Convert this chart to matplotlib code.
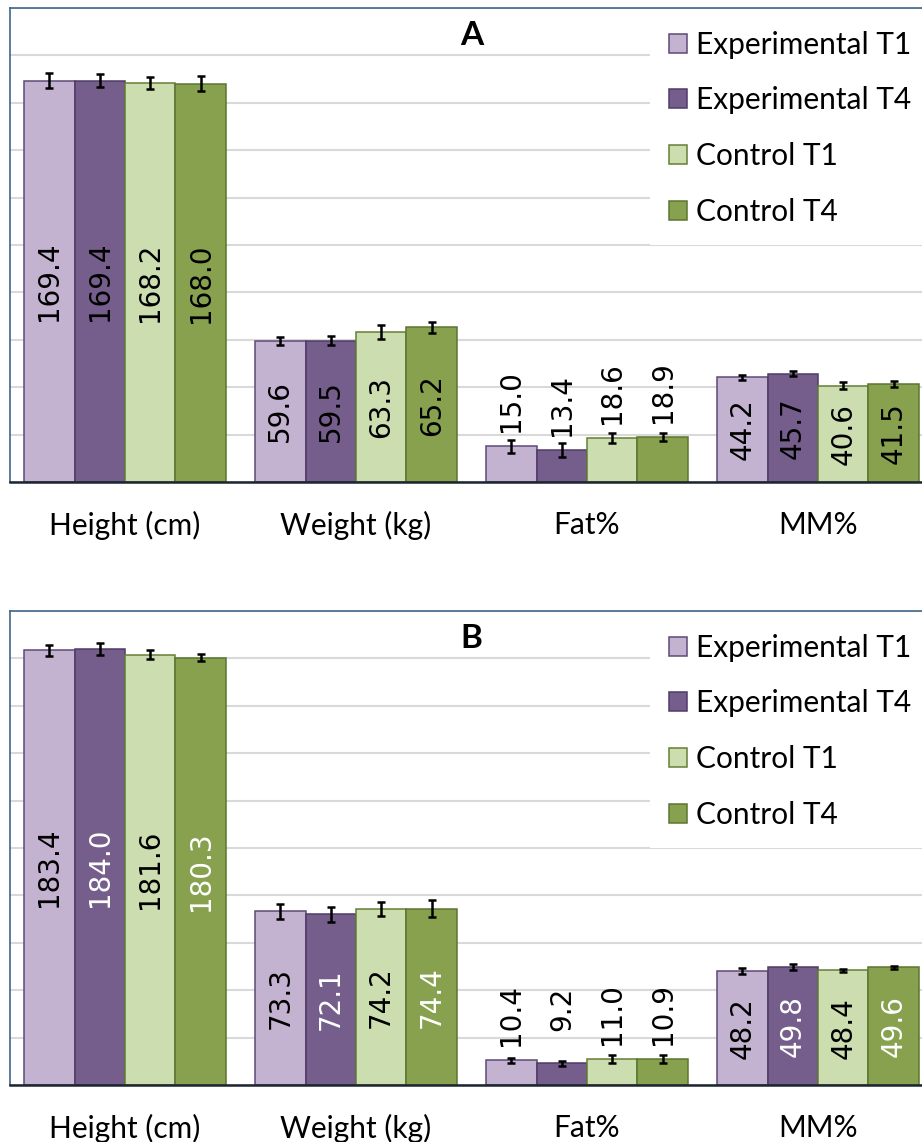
"""Anthropometric bar chart, panels A and B."""

import matplotlib
matplotlib.use("Agg")
import matplotlib.pyplot as plt
import numpy as np
from matplotlib.patches import Patch

categories = ["Height (cm)", "Weight (kg)", "Fat%", "MM%"]
series_names = ["Experimental T1", "Experimental T4", "Control T1", "Control T4"]

# panel A
a_exp_t1 = [169.4, 59.6, 15.0, 44.2]
a_exp_t4 = [169.4, 59.5, 13.4, 45.7]
a_ctl_t1 = [168.2, 63.3, 18.6, 40.6]
a_ctl_t4 = [168.0, 65.2, 18.9, 41.5]
a_err_exp_t1 = [3.0, 1.7, 2.8, 1.0]
a_err_exp_t4 = [2.8, 1.9, 2.9, 1.0]
a_err_ctl_t1 = [2.5, 2.9, 2.1, 1.5]
a_err_ctl_t4 = [3.2, 2.4, 1.7, 1.3]

# panel B
b_exp_t1 = [183.4, 73.3, 10.4, 48.2]
b_exp_t4 = [184.0, 72.1, 9.2, 49.8]
b_ctl_t1 = [181.6, 74.2, 11.0, 48.4]
b_ctl_t4 = [180.3, 74.4, 10.9, 49.6]
b_err_exp_t1 = [2.2, 3.2, 1.1, 1.2]
b_err_exp_t4 = [2.5, 3.2, 1.0, 1.4]
b_err_ctl_t1 = [1.9, 3.0, 1.6, 0.7]
b_err_ctl_t4 = [1.6, 3.6, 1.8, 0.6]

FILLS = ["#c3b3d1", "#765e8c", "#ccddaf", "#88a14f"]
EDGES = ["#5e4a78", "#4e3c66", "#647f35", "#5a7530"]
LABEL_FONT = "Lato"
W, H = 922, 1142
BAR_W = 0.2186


def draw_panel(ax, title, values, errors, white_series):
    x = np.arange(len(categories))
    for i, (vals, errs) in enumerate(zip(values, errors)):
        pos = x + (i - 1.5) * BAR_W
        ax.bar(pos, vals, BAR_W, color=FILLS[i], edgecolor=EDGES[i], linewidth=1.1,
               label=series_names[i], zorder=2)
        ax.errorbar(pos, vals, yerr=errs, fmt="none", ecolor="black", elinewidth=1.8,
                    capsize=3.2, capthick=1.8, zorder=3)
        for p, v in zip(pos, vals):
            if v > 25:
                col = "white" if i in white_series else "black"
                ax.text(p, v / 2, f"{v:.1f}", rotation=90, ha="center", va="center",
                        fontsize=20, color=col, zorder=4)
            else:
                ax.annotate(f"{v:.1f}", (p, v), xytext=(0, 76), textcoords="offset pixels",
                            rotation=90, ha="center", va="top", fontsize=20, zorder=4)

    ax.set_xlim(-0.5, 3.5)
    ax.set_ylim(0, 200)
    ax.set_yticks(range(0, 201, 20))
    ax.yaxis.grid(True, color="#d9d9d9", linewidth=1.5)
    ax.set_axisbelow(True)
    ax.tick_params(axis="y", length=0, labelleft=False)
    ax.set_xticks(x)
    ax.set_xticklabels(categories, fontsize=21.5, family=LABEL_FONT)
    ax.tick_params(axis="x", length=0, pad=21)
    ax.spines["right"].set_visible(False)
    for side in ("top", "left"):
        ax.spines[side].set_color("#41658a")
        ax.spines[side].set_linewidth(1.2)
    ax.spines["bottom"].set_color("#1c2530")
    ax.spines["bottom"].set_linewidth(1.8)

    ax.text(0.5, 0.943, title, transform=ax.transAxes, ha="center", va="center",
            fontsize=24, fontweight="bold", family=LABEL_FONT)

    handles = [Patch(facecolor=FILLS[i], edgecolor=EDGES[i], linewidth=1.1)
               for i in range(len(series_names))]
    leg = ax.legend(handles, series_names, loc="upper left", bbox_to_anchor=(0.693, 0.993),
                    borderaxespad=0, frameon=True, fancybox=False, framealpha=1,
                    edgecolor="none", facecolor="white", borderpad=0.65,
                    handlelength=0.6, handleheight=0.6, handletextpad=0.3,
                    labelspacing=0.93, prop={"family": LABEL_FONT, "size": 21.5})
    leg.set_zorder(5)


fig = plt.figure(figsize=(W / 100, H / 100), dpi=100)
ax_a = fig.add_axes([9.5 / W, (H - 482) / H, 924 / W, 474 / H])
ax_b = fig.add_axes([9.5 / W, (H - 1085) / H, 924 / W, 474 / H])

draw_panel(ax_a, "A", [a_exp_t1, a_exp_t4, a_ctl_t1, a_ctl_t4],
           [a_err_exp_t1, a_err_exp_t4, a_err_ctl_t1, a_err_ctl_t4], white_series=[])
draw_panel(ax_b, "B", [b_exp_t1, b_exp_t4, b_ctl_t1, b_ctl_t4],
           [b_err_exp_t1, b_err_exp_t4, b_err_ctl_t1, b_err_ctl_t4], white_series=[1, 3])

fig.savefig("out.png", dpi=100)
plt.close(fig)
